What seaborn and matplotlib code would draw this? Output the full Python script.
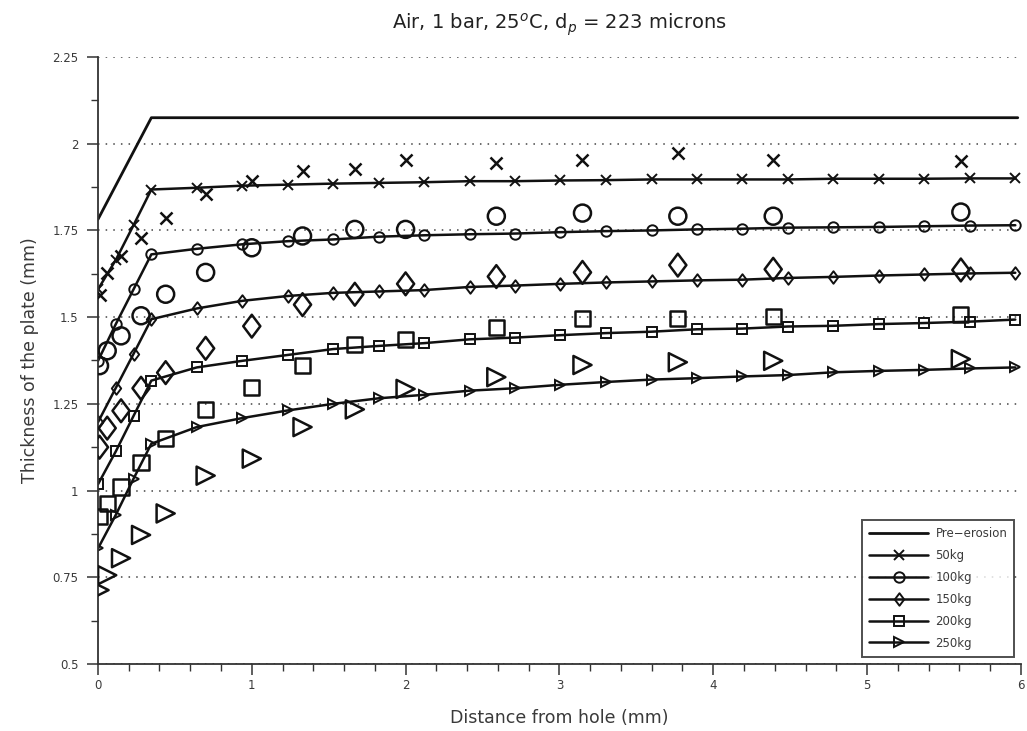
import matplotlib
matplotlib.use("Agg")
import matplotlib.pyplot as plt
from matplotlib.path import Path
from matplotlib.ticker import MultipleLocator, FixedLocator, FixedFormatter
import pandas as pd
import seaborn as sns

# ---- data -------------------------------------------------------------
# x positions (mm) of the model curves
model_x = [0.0, 0.116, 0.231, 0.347, 0.642, 0.938, 1.234, 1.529, 1.825, 2.120,
           2.416, 2.712, 3.007, 3.303, 3.599, 3.894, 4.190, 4.486, 4.781, 5.077,
           5.372, 5.668, 5.964]

# plate profile before erosion
pre_x = [0.0, 0.347, 5.98]
pre_y = [1.782, 2.075, 2.075]

# model thickness (mm) for each eroded mass
model_50 = [1.580, 1.665, 1.765, 1.868, 1.873, 1.879, 1.882, 1.885, 1.887, 1.889,
            1.892, 1.892, 1.894, 1.895, 1.897, 1.897, 1.897, 1.897, 1.899, 1.899,
            1.899, 1.900, 1.900]
model_100 = [1.374, 1.480, 1.580, 1.681, 1.697, 1.710, 1.719, 1.724, 1.732, 1.736,
             1.739, 1.741, 1.745, 1.748, 1.750, 1.753, 1.755, 1.758, 1.759, 1.760,
             1.762, 1.764, 1.765]
model_150 = [1.197, 1.296, 1.394, 1.494, 1.525, 1.547, 1.561, 1.570, 1.574, 1.578,
             1.587, 1.591, 1.596, 1.600, 1.603, 1.606, 1.608, 1.613, 1.616, 1.620,
             1.623, 1.626, 1.628]
model_200 = [1.018, 1.113, 1.215, 1.317, 1.355, 1.374, 1.391, 1.408, 1.417, 1.425,
             1.436, 1.441, 1.448, 1.454, 1.458, 1.465, 1.467, 1.473, 1.475, 1.480,
             1.483, 1.487, 1.493]
model_250 = [0.833, 0.930, 1.034, 1.135, 1.183, 1.209, 1.231, 1.250, 1.266, 1.276,
             1.288, 1.295, 1.305, 1.313, 1.320, 1.324, 1.329, 1.333, 1.341, 1.345,
             1.348, 1.352, 1.355]

# measured thickness (mm)
meas_x = [0.01, 0.06, 0.15, 0.28, 0.44, 0.70, 1.00, 1.33, 1.67, 2.00,
          2.59, 3.15, 3.77, 4.39, 5.61]
meas_50 = [1.565, 1.628, 1.676, 1.727, 1.787, 1.854, 1.893, 1.922, 1.927, 1.954,
           1.945, 1.954, 1.973, 1.954, 1.949]
meas_100 = [1.360, 1.403, 1.446, 1.504, 1.566, 1.629, 1.700, 1.734, 1.753, 1.753,
            1.791, 1.800, 1.791, 1.791, 1.803]
meas_150 = [1.125, 1.180, 1.230, 1.295, 1.340, 1.410, 1.474, 1.536, 1.566, 1.596,
            1.617, 1.629, 1.650, 1.638, 1.636]
meas_200 = [0.925, 0.963, 1.010, 1.080, 1.150, 1.234, 1.297, 1.360, 1.420, 1.436,
            1.470, 1.496, 1.496, 1.502, 1.508]
meas_250 = [0.713, 0.756, 0.805, 0.872, 0.934, 1.043, 1.092, 1.183, 1.234, 1.293,
            1.327, 1.362, 1.370, 1.374, 1.379]

series_labels = ["50kg", "100kg", "150kg", "200kg", "250kg"]
model_series = [model_50, model_100, model_150, model_200, model_250]
meas_series = [meas_50, meas_100, meas_150, meas_200, meas_250]

y_ticks = [0.5, 0.75, 1.0, 1.25, 1.5, 1.75, 2.0, 2.25]
y_tick_labels = ["0.5", "0.75", "1", "1.25", "1.5", "1.75", "2", "2.25"]
x_ticks = [0, 1, 2, 3, 4, 5, 6]
x_tick_labels = ["0", "1", "2", "3", "4", "5", "6"]

# ---- styling ------------------------------------------------------------
sns.set_style("ticks")
plt.rcParams["font.family"] = ["DejaVu Sans"]
plt.rcParams["mathtext.fontset"] = "dejavusans"

diamond = Path([(0, 1), (0.75, 0), (0, -1), (-0.75, 0), (0, 1)],
               [Path.MOVETO, Path.LINETO, Path.LINETO, Path.LINETO, Path.CLOSEPOLY])
markers = ["x", "o", diamond, "s", ">"]
model_ms = [7.5, 7.5, 9, 6.5, 7.5]
meas_ms = [75, 150, 270, 120, 170]

ink = "#111111"
text_col = "#3a3a3a"

fig = plt.figure(figsize=(10.27, 7.31), dpi=100)
ax = fig.add_axes([0.0954, 0.0917, 0.8986, 0.8303])

# pre-erosion profile
sns.lineplot(x=pre_x, y=pre_y, ax=ax, color=ink, lw=2.0, sort=False,
             estimator=None, label="Pre\u2212erosion")

for lab, mk, my, ms in zip(series_labels, markers, model_series, model_ms):
    sns.lineplot(x=model_x, y=my, ax=ax, color=ink, lw=1.8, sort=False,
                 estimator=None, marker=mk, markersize=ms,
                 markerfacecolor="none", markeredgecolor=ink,
                 markeredgewidth=1.4, label=lab)

for mk, vals, s in zip(markers, meas_series, meas_ms):
    df = pd.DataFrame({"x": meas_x, "y": vals})
    if mk == "x":
        sns.scatterplot(data=df, x="x", y="y", ax=ax, marker=mk, s=s,
                        color=ink, linewidth=1.8, legend=False, zorder=3)
    else:
        sns.scatterplot(data=df, x="x", y="y", ax=ax, marker=mk, s=s,
                        facecolor="none", edgecolor=ink, linewidth=1.8,
                        legend=False, zorder=3)

# ---- axes ---------------------------------------------------------------
ax.set_xlim(0, 6)
ax.set_ylim(0.5, 2.25)
ax.xaxis.set_major_locator(FixedLocator(x_ticks))
ax.xaxis.set_major_formatter(FixedFormatter(x_tick_labels))
ax.xaxis.set_minor_locator(MultipleLocator(0.2))
ax.yaxis.set_major_locator(FixedLocator(y_ticks))
ax.yaxis.set_major_formatter(FixedFormatter(y_tick_labels))
ax.yaxis.set_minor_locator(MultipleLocator(0.125))

for side in ("top", "right"):
    ax.spines[side].set_visible(False)
for side in ("left", "bottom"):
    ax.spines[side].set_color("#333333")
    ax.spines[side].set_linewidth(1.3)

ax.tick_params(which="major", direction="out", length=8, width=1.1,
               color="#333333", labelsize=8.5, labelcolor=text_col)
ax.tick_params(axis="x", which="major", pad=3)
ax.tick_params(axis="y", which="major", pad=6)
ax.tick_params(which="minor", direction="out", length=5, width=1.0,
               color="#333333")

ax.yaxis.grid(True, which="major", linestyle=(0, (1, 4)), color="#444444",
              linewidth=1.1)
ax.set_axisbelow(True)

ax.set_xlabel("Distance from hole (mm)", fontsize=12.5, color=text_col,
              labelpad=12)
ax.set_ylabel("Thickness of the plate (mm)", fontsize=12.5, color=text_col,
              labelpad=10)
ax.set_title(r"Air, 1 bar, 25$^{o}$C, d$_{p}$ = 223 microns", fontsize=14,
             color="#222222", pad=20)

leg = ax.legend(loc="lower right", bbox_to_anchor=(0.993, 0.012),
                borderaxespad=0, fontsize=8.5, handlelength=5.0,
                handletextpad=0.6, labelspacing=0.75, fancybox=False,
                frameon=True, borderpad=0.6)
leg.get_frame().set_edgecolor("#222222")
leg.get_frame().set_linewidth(1.4)
for t in leg.get_texts():
    t.set_color(text_col)

fig.savefig("out.png", dpi=100, facecolor="white")
